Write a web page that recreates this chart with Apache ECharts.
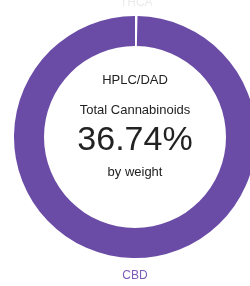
<!DOCTYPE html>
<html>
<head>
<meta charset="utf-8">
<script src="https://cdn.jsdelivr.net/npm/echarts@6/dist/echarts.min.js"></script>
<style>
  html, body { margin: 0; padding: 0; background: #fff; }
  #chart { width: 250px; height: 286px; }
</style>
</head>
<body>
<div id="chart"></div>
<script>
// 数据
var categories = ['THCA', 'CBD'];
var values = [0.12, 36.62];
var sliceColors = ['#ffffff', '#6a4ca6'];
var labelColors = ['#ebebeb', '#7a5cb6'];
var centerLines = ['HPLC/DAD', 'Total Cannabinoids', '36.74%', 'by weight'];

var myChart = echarts.init(document.getElementById('chart'));

var pieData = categories.map(function (name, i) {
    return {
        name: name,
        value: values[i],
        itemStyle: { color: sliceColors[i] },
        label: { color: labelColors[i] }
    };
});

// 中心文字
function centerText(text, y, size) {
    return {
        type: 'text', x: 135, y: y,
        style: { text: text, font: size + 'px Liberation Sans', fill: '#222', align: 'center', verticalAlign: 'middle' }
    };
}

var options = {
    animation: false,
    graphic: [
        centerText(centerLines[0], 80, 13),
        centerText(centerLines[1], 110.5, 13),
        centerText(centerLines[2], 140.5, 34),
        centerText(centerLines[3], 172.5, 13)
    ],
    series: [{
        type: 'pie',
        center: [135, 137],
        radius: [91, 121],
        startAngle: 90,
        clockwise: true,
        avoidLabelOverlap: false,
        label: {
            show: true,
            position: 'outside',
            fontFamily: 'Liberation Sans',
            fontSize: 12
        },
        labelLine: { show: false, length: 18, length2: 0 },
        labelLayout: function (params) {
            // 标签水平居中于扇区，上方的贴近圆环
            var r = params.rect;
            var above = params.labelRect.y + params.labelRect.height / 2 < r.y + r.height / 2;
            return {
                x: r.x + r.width / 2,
                y: above ? r.y - 13 : r.y + r.height + 18,
                align: 'center',
                verticalAlign: 'middle'
            };
        },
        emphasis: { disabled: true },
        data: pieData
    }]
};
myChart.setOption(options);
</script>
</body>
</html>
